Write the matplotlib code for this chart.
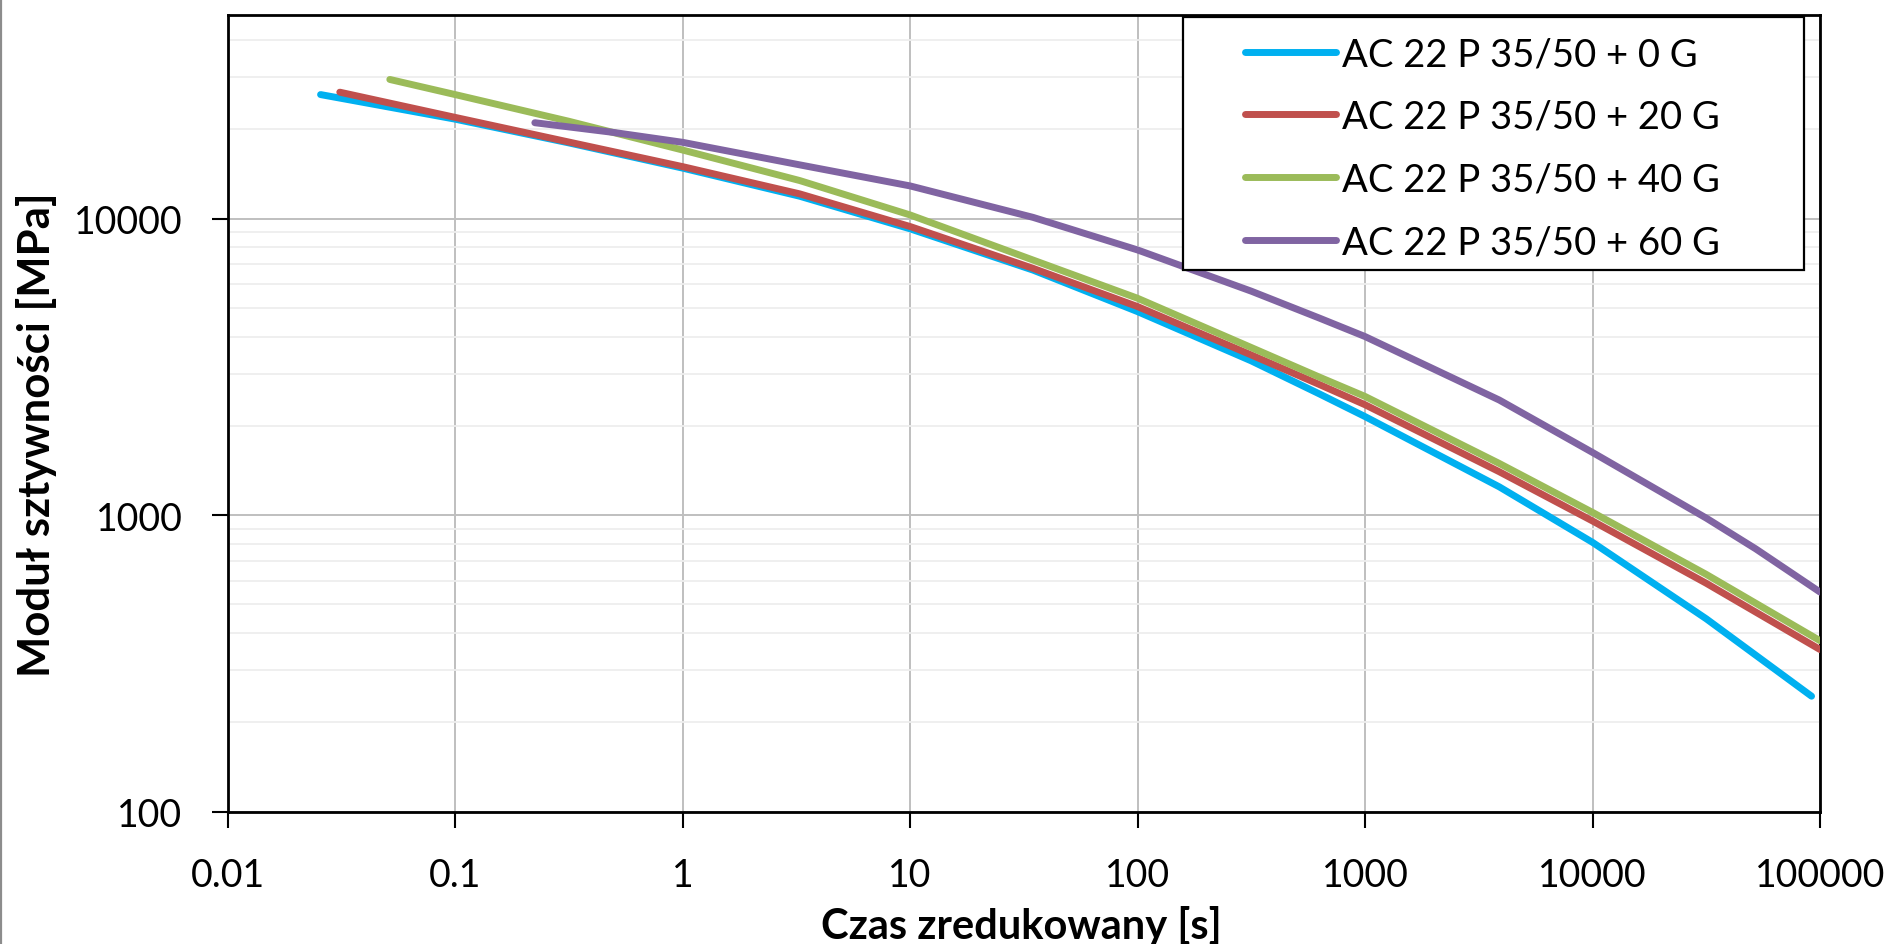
import matplotlib
matplotlib.use("Agg")
import matplotlib.pyplot as plt
from matplotlib.ticker import FixedLocator, FixedFormatter, NullLocator, LogLocator
from matplotlib.patches import Rectangle
from matplotlib.lines import Line2D

plt.rcParams['font.family'] = ['Lato', 'DejaVu Sans']

# ---- data ----
labels = ["AC 22 P 35/50 + 0 G", "AC 22 P 35/50 + 20 G",
          "AC 22 P 35/50 + 40 G", "AC 22 P 35/50 + 60 G"]
colors = ["#00B0F0", "#C0504D", "#9BBB59", "#8064A2"]

t_0G = [0.0256, 0.1, 0.316, 1, 3.27, 10, 34.7, 100, 316, 631, 1000, 3890, 10000, 31600, 91800]
E_0G = [26180, 21630, 17990, 14790, 11890, 9230, 6700, 4853, 3311, 2560, 2148, 1245, 809, 447, 245]

t_20G = [0.0311, 0.1, 0.316, 1, 3.27, 10, 34.7, 100, 316, 631, 1000, 3890, 10000, 31600, 100000]
E_20G = [26670, 21930, 18110, 14960, 12110, 9397, 6792, 5047, 3467, 2754, 2355, 1400, 955, 589, 352]

t_40G = [0.0516, 0.1, 0.316, 1, 3.27, 10, 34.7, 100, 316, 631, 1000, 3890, 10000, 31600, 100000]
E_40G = [29440, 26180, 21280, 17020, 13430, 10280, 7244, 5383, 3673, 2917, 2512, 1493, 1021, 631, 377]

t_60G = [0.224, 0.5, 1, 3.27, 10, 34.7, 100, 316, 631, 1000, 3890, 10000, 31600, 52200, 100000]
E_60G = [21040, 19500, 18070, 15170, 12880, 10090, 7834, 5689, 4613, 3999, 2443, 1626, 977, 769, 550]

x_ticks = [0.01, 0.1, 1, 10, 100, 1000, 10000, 100000]
x_ticklabels = ["0.01", "0.1", "1", "10", "100", "1000", "10000", "100000"]
y_ticks = [100, 1000, 10000]
y_ticklabels = ["100", "1000", "10000"]

x_label = "Czas zredukowany [s]"
y_label = "Moduł sztywności [MPa]"

series = [(t_0G, E_0G), (t_20G, E_20G), (t_40G, E_40G), (t_60G, E_60G)]

# ---- figure ----
W, H = 1899, 945
fig = plt.figure(figsize=(W / 100, H / 100), dpi=100)
L, R, T, B = 227.7, 1820, 15.5, 812.6
ax = fig.add_axes([L / W, 1 - B / H, (R - L) / W, (B - T) / H])

ax.set_xscale('log')
ax.set_yscale('log')
ax.set_xlim(0.01, 100000)
ax.set_ylim(100, 10 ** 4.688)

handles = []
for (t, E), c, lab in zip(series, colors, labels):
    h, = ax.plot(t, E, color=c, lw=5.0, solid_capstyle='round',
                 solid_joinstyle='round', label=lab, zorder=3)
    handles.append(h)

# ticks
ax.xaxis.set_major_locator(FixedLocator(x_ticks))
ax.xaxis.set_major_formatter(FixedFormatter(x_ticklabels))
ax.xaxis.set_minor_locator(NullLocator())
ax.yaxis.set_major_locator(FixedLocator(y_ticks))
ax.yaxis.set_major_formatter(FixedFormatter(y_ticklabels))
ax.yaxis.set_minor_locator(LogLocator(base=10, subs=[2, 3, 4, 5, 6, 7, 8, 9]))
ax.tick_params(axis='both', which='major', direction='out', length=11.5, width=1.5,
               labelsize=27, pad=21, colors='black')
ax.tick_params(axis='both', which='minor', length=0)

# grid
ax.grid(which='major', axis='both', color='#BFBFBF', lw=1.4, zorder=0)
ax.grid(which='minor', axis='y', color='#EEEEEE', lw=1.3, zorder=0)
ax.set_axisbelow(True)

for s in ax.spines.values():
    s.set_linewidth(2.0)
    s.set_color('black')

# axis labels
ax.set_xlabel(x_label, fontsize=30, fontweight='bold', va='center')
ax.xaxis.set_label_coords(0.4986, -0.1423)
ax.set_ylabel(y_label, fontsize=31.5, fontweight='bold', va='center')
ax.yaxis.set_label_coords((37 - L) / (R - L), 0.474)

# legend frame
lx0, lx1 = (1183 - L) / (R - L), (1804 - L) / (R - L)
ly0, ly1 = (B - 271) / (B - T), (B - 18) / (B - T)
ax.add_patch(Rectangle((lx0, ly0), lx1 - lx0, ly1 - ly0, transform=ax.transAxes,
                       facecolor='white', edgecolor='black', lw=1.6, zorder=4,
                       clip_on=False))
leg = ax.legend(handles=handles, loc='upper left',
                bbox_to_anchor=((1245 - L) / (R - L), (B - 37) / (B - T)),
                frameon=False, fontsize=27.5, handlelength=2.38, handletextpad=0.16,
                labelspacing=0.7, borderpad=0, borderaxespad=0)
leg.set_zorder(5)

# thin grey border at the left edge of the image
fig.add_artist(Line2D([0.0006, 0.0006], [0, 1], transform=fig.transFigure,
                      color='#8C8C8C', lw=1.6))

fig.savefig("out.png", dpi=100)
